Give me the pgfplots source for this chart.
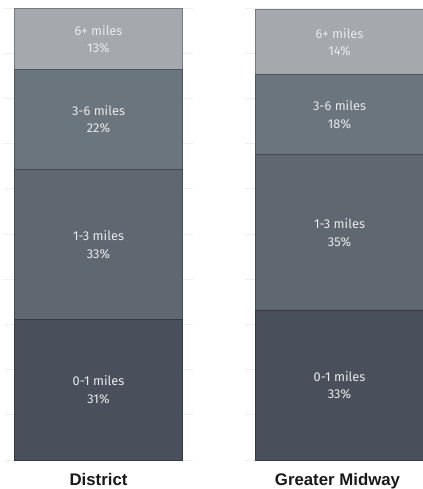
\documentclass[border=0pt]{standalone}
\usepackage{fontspec}
\setmainfont{Liberation Sans}
\newfontfamily\lblfont{Fira Sans}
\usepackage{pgfplots}
\pgfplotsset{compat=1.18}
\definecolor{cA}{HTML}{4A505B}
\definecolor{cB}{HTML}{5F6871}
\definecolor{cC}{HTML}{6B757E}
\definecolor{cD}{HTML}{A5A9AD}
\definecolor{gridc}{HTML}{F0F0F0}
\definecolor{txt}{HTML}{E8EAEC}
\pgfplotsset{
  panel/.style={
    anchor=south west, scale only axis, width=189bp, height=452bp,
    xmin=0, xmax=1, ymin=0, ymax=100, clip=false,
    ybar stacked, bar width=168.5bp,
    axis line style={draw=none},
    xtick=\empty, ytick={0,10,...,100}, yticklabels={},
    major tick length=0pt,
    ymajorgrids, grid style={color=gridc, line width=0.6bp},
  },
}
\tikzset{
  seg/.style={fill=#1, draw=#1!72!black, line width=0.8bp},
  seglab/.style={text=txt, align=center, font=\lblfont\fontsize{12.8bp}{17.5bp}\selectfont},
  catlab/.style={anchor=base, font=\bfseries\fontsize{16.8bp}{18bp}\selectfont, text=black!90},
}
\begin{document}
\begin{tikzpicture}
\useasboundingbox (0,0) rectangle (423bp,489bp);
\begin{axis}[panel, at={(4bp,29bp)}]
\addplot[seg=cA] coordinates {(0.5,31.0)};
\addplot[seg=cB] coordinates {(0.5,33.2)};
\addplot[seg=cC] coordinates {(0.5,22.3)};
\addplot[seg=cD] coordinates {(0.5,13.3)};
\coordinate (a1) at (axis cs:0.5,15.5);
\coordinate (a2) at (axis cs:0.5,47.6);
\coordinate (a3) at (axis cs:0.5,75.35);
\coordinate (a4) at (axis cs:0.5,93.15);
\coordinate (a0) at (axis cs:0.5,0);
\end{axis}
\begin{axis}[panel, at={(245bp,29bp)}]
\addplot[seg=cA] coordinates {(0.5,33.0)};
\addplot[seg=cB] coordinates {(0.5,34.5)};
\addplot[seg=cC] coordinates {(0.5,17.7)};
\addplot[seg=cD] coordinates {(0.5,14.5)};
\coordinate (b1) at (axis cs:0.5,16.5);
\coordinate (b2) at (axis cs:0.5,50.25);
\coordinate (b3) at (axis cs:0.5,76.35);
\coordinate (b4) at (axis cs:0.5,92.45);
\coordinate (b0) at (axis cs:0.5,0);
\end{axis}
\node[seglab] at (a1) {0-1 miles\\31\%};
\node[seglab] at (a2) {1-3 miles\\33\%};
\node[seglab] at (a3) {3-6 miles\\22\%};
\node[seglab] at (a4) {6+ miles\\13\%};
\node[catlab] at ([yshift=-25bp]a0) {District};
\node[seglab] at (b1) {0-1 miles\\33\%};
\node[seglab] at (b2) {1-3 miles\\35\%};
\node[seglab] at (b3) {3-6 miles\\18\%};
\node[seglab] at (b4) {6+ miles\\14\%};
\node[catlab] at ([yshift=-25bp,xshift=-2bp]b0) {Greater Midway};
\end{tikzpicture}
\end{document}
